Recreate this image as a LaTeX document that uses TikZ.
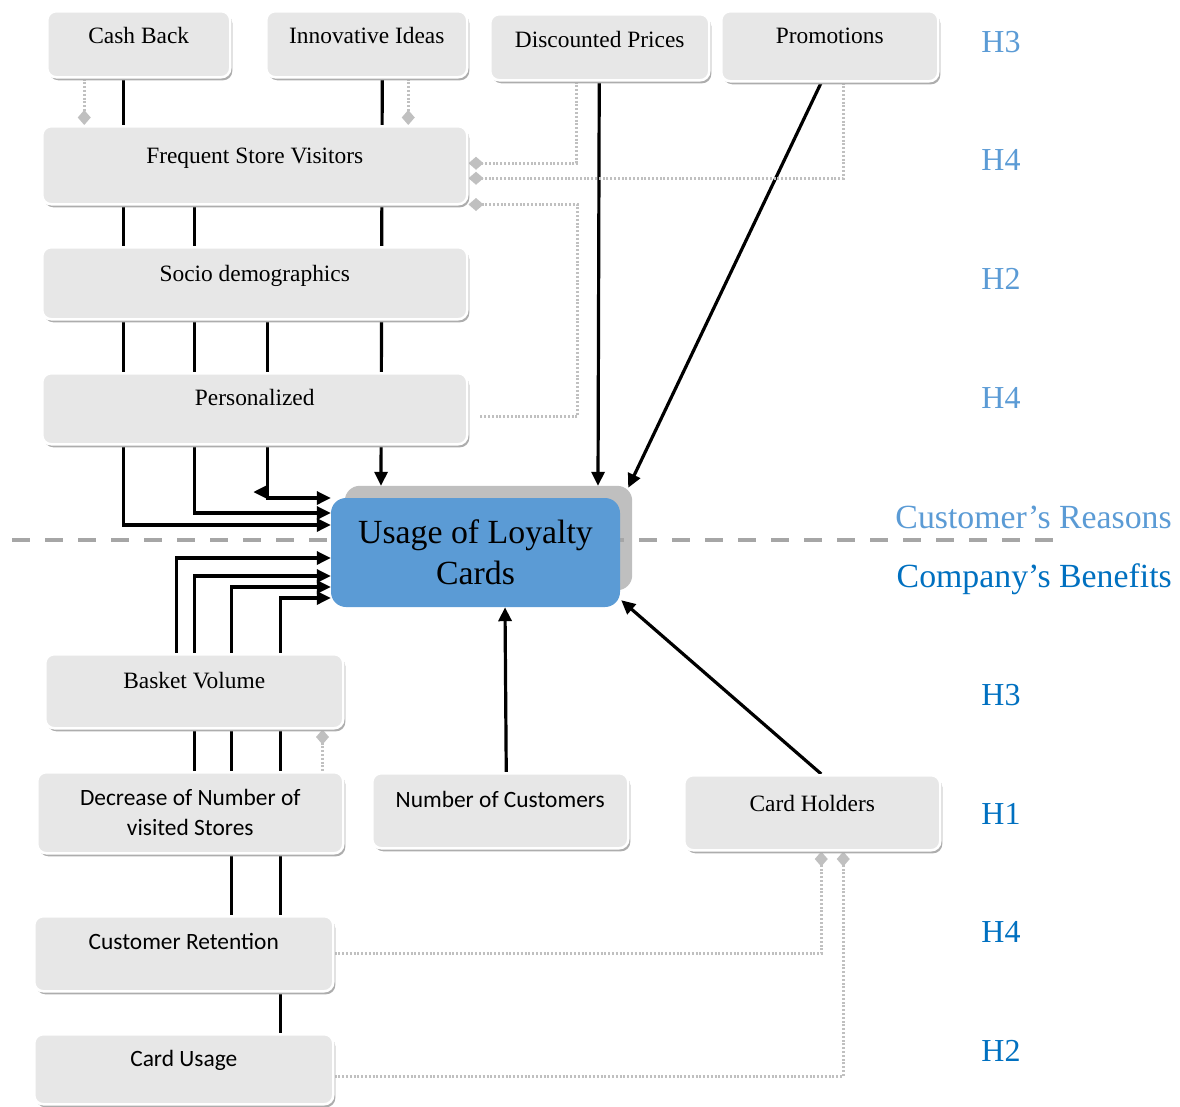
\documentclass[tikz,border=0pt]{standalone}
\usepackage{fontspec}
\setmainfont{Liberation Serif}
\newfontfamily\calibrifont{Carlito}
\usetikzlibrary{arrows.meta}
\usetikzlibrary{shadows}
\usetikzlibrary{backgrounds}

\definecolor{boxgray}{RGB}{231,231,231}
\definecolor{linkgray}{RGB}{192,192,192}
\definecolor{coreblue}{RGB}{91,155,213}
\definecolor{coreshade}{RGB}{191,191,191}
\definecolor{sepgray}{RGB}{166,166,166}
\definecolor{reasonblue}{RGB}{91,155,213}
\definecolor{benefitblue}{RGB}{0,112,192}

\newcommand{\boxfont}{\fontsize{23.4}{28}\selectfont}
\newcommand{\sansboxfont}{\calibrifont\fontsize{23.4}{30}\selectfont}

\tikzset{
    diam/.tip={Diamond[length=15pt,width=13pt]},
    factor/.style={draw=white, line width=2.5pt, fill=boxgray, rounded corners=9pt,
        drop shadow={shadow xshift=2pt, shadow yshift=-3pt, fill=black!32, opacity=1},
        inner sep=0pt, anchor=north west, font=\boxfont},
    core/.style={fill=coreblue, rounded corners=15pt, minimum width=289pt, minimum height=109pt,
        align=center, inner sep=0pt, font=\fontsize{33.8}{41}\selectfont},
    flow/.style={line width=3.2pt, -{Triangle[length=14pt,width=13pt]}},
    link/.style={draw=linkgray, line width=2.6pt, dash pattern=on 2pt off 1.8pt, -diam},
    hyp/.style={anchor=base, inner sep=0pt, font=\fontsize{32}{32}\selectfont},
    side/.style={anchor=base east, inner sep=0pt, font=\fontsize{33.8}{34}\selectfont},
}

\begin{document}
\begin{tikzpicture}[x=1pt,y=-1pt]
    \useasboundingbox (0,0) rectangle (1180,1106);

    % Customer's reasons (top row and moderators)
    \node[factor, minimum width=183pt, text height=32pt, text depth=34pt] (cash) at (46,10) {Cash Back};
    \node[factor, minimum width=201pt, text height=32pt, text depth=34pt] (innov) at (265,10) {Innovative Ideas};
    \node[factor, minimum width=219pt, text height=33pt, text depth=33pt] (disc) at (489,13) {Discounted Prices};
    \node[factor, minimum width=217pt, text height=32pt, text depth=38pt] (promo) at (720,10) {Promotions};
    \node[factor, minimum width=425pt, text height=37pt, text depth=41pt] (fsv) at (41,125) {Frequent Store Visitors};
    \node[factor, minimum width=425pt, text height=34pt, text depth=38pt] (socio) at (41,246) {Socio demographics};
    \node[factor, minimum width=425pt, text height=32pt, text depth=39pt] (pers) at (41,372) {Personalized};

    % Central construct
    \node[core] (usage) at (475.5,552.5) {Usage of Loyalty\\Cards};

    % Company's benefits
    \node[factor, minimum width=298pt, text height=34pt, text depth=40pt] (basket) at (44,653) {Basket Volume};
    \node[factor, minimum width=306pt, minimum height=81pt, align=center, font=\sansboxfont] (decrease) at (36,771) {Decrease of Number of\\visited Stores};
    \node[factor, minimum width=256pt, text height=34pt, text depth=41pt, font=\sansboxfont] (numcust) at (371,772) {Number of Customers};
    \node[factor, minimum width=256pt, text height=36pt, text depth=39pt] (cardh) at (683,774) {Card Holders};
    \node[factor, minimum width=299pt, text height=33pt, text depth=42pt, font=\sansboxfont] (custret) at (33,915) {Customer Retention};
    \node[factor, minimum width=299pt, text height=32pt, text depth=38pt, font=\sansboxfont] (cardusage) at (33,1033) {Card Usage};

    % Hypotheses
    \node[hyp, text=reasonblue] (hcash) at (1001,52) {H3};
    \node[hyp, text=reasonblue] (hfsv) at (1001,170) {H4};
    \node[hyp, text=reasonblue] (hsocio) at (1001,289) {H2};
    \node[hyp, text=reasonblue] (hpers) at (1001,408) {H4};
    \node[hyp, text=benefitblue] (hbasket) at (1001,705) {H3};
    \node[hyp, text=benefitblue] (hdecr) at (1001,824) {H1};
    \node[hyp, text=benefitblue] (hret) at (1001,942) {H4};
    \node[hyp, text=benefitblue] (huse) at (1001,1061) {H2};
    \node[side, text=reasonblue] (reasons) at (1172,528) {Customer’s Reasons};
    \node[side, text=benefitblue] (benefits) at (1172,587) {Company’s Benefits};

    \begin{scope}[on background layer]
    % Shade behind the central box and the dividing line
    \fill[coreshade, rounded corners=15pt] ([xshift=14pt,yshift=17pt]usage.south west) rectangle ([xshift=12pt,yshift=12pt]usage.north east);
    \draw[sepgray, line width=4.5pt, dash pattern=on 18pt off 15pt] (12,540) -- (1053,540);

    % Solid connectors into the central box
    \draw[flow] ([xshift=-15.5pt]cash.south) |- ([yshift=27.5pt]usage.west);
    \draw[flow] ([xshift=-60.5pt]fsv.south) |- ([yshift=39.5pt]usage.west);
    \draw[flow] ([xshift=12.5pt]socio.south) |- ([yshift=54.5pt]usage.west) coordinate[pos=0.5] (sockink);
    \draw[flow] ([yshift=6pt]sockink) -- ++(-14,0);
    \draw[flow] ([xshift=15.5pt]innov.south) -- ([xshift=-94.5pt,yshift=12pt]usage.north);
    \draw[flow] ([xshift=-0.5pt]disc.south) -- ([xshift=122.5pt,yshift=12pt]usage.north);
    \draw[flow] ([xshift=-8.5pt]promo.south) -- ([xshift=8pt,yshift=10pt]usage.north east);
    \draw[flow] ([xshift=-18pt]basket.north) |- ([yshift=-5.5pt]usage.west);
    \draw[flow] ([xshift=4pt]decrease.north) |- ([yshift=-23.5pt]usage.west);
    \draw[flow] ([xshift=47.5pt]custret.north) |- ([yshift=-34.5pt]usage.west);
    \draw[flow] ([xshift=96.5pt]cardusage.north) |- ([yshift=-45.5pt]usage.west);
    \draw[flow] ([xshift=6pt]numcust.north) -- ([xshift=29.5pt]usage.south);
    \draw[flow] ([xshift=9pt]cardh.north) -- ([xshift=1pt,yshift=7pt]usage.south east);

    % Dotted links with diamond ends
    \draw[link] ([xshift=-54.5pt]cash.south) -- ([xshift=-170.5pt]fsv.north);
    \draw[link] ([xshift=41.5pt]innov.south) -- ([xshift=153.5pt]fsv.north);
    \draw[link] ([xshift=-23.5pt]disc.south) |- ([yshift=2pt]fsv.east);
    \draw[link] ([xshift=13.5pt]promo.south) |- ([yshift=-13pt]fsv.east);
    \draw[link, diam-] ([yshift=1pt]fsv.south east) -- ++(109,0) |- ([xshift=11pt,yshift=-7.5pt]pers.east);
    \draw[link, diam-] ([xshift=-22pt]basket.south east) -- ([xshift=-22pt]decrease.north east);
    \draw[link] (custret.east) -| ([xshift=9pt]cardh.south);
    \draw[link] ([yshift=-7pt]cardusage.east) -| ([xshift=31pt]cardh.south);
    \end{scope}
\end{tikzpicture}
\end{document}
